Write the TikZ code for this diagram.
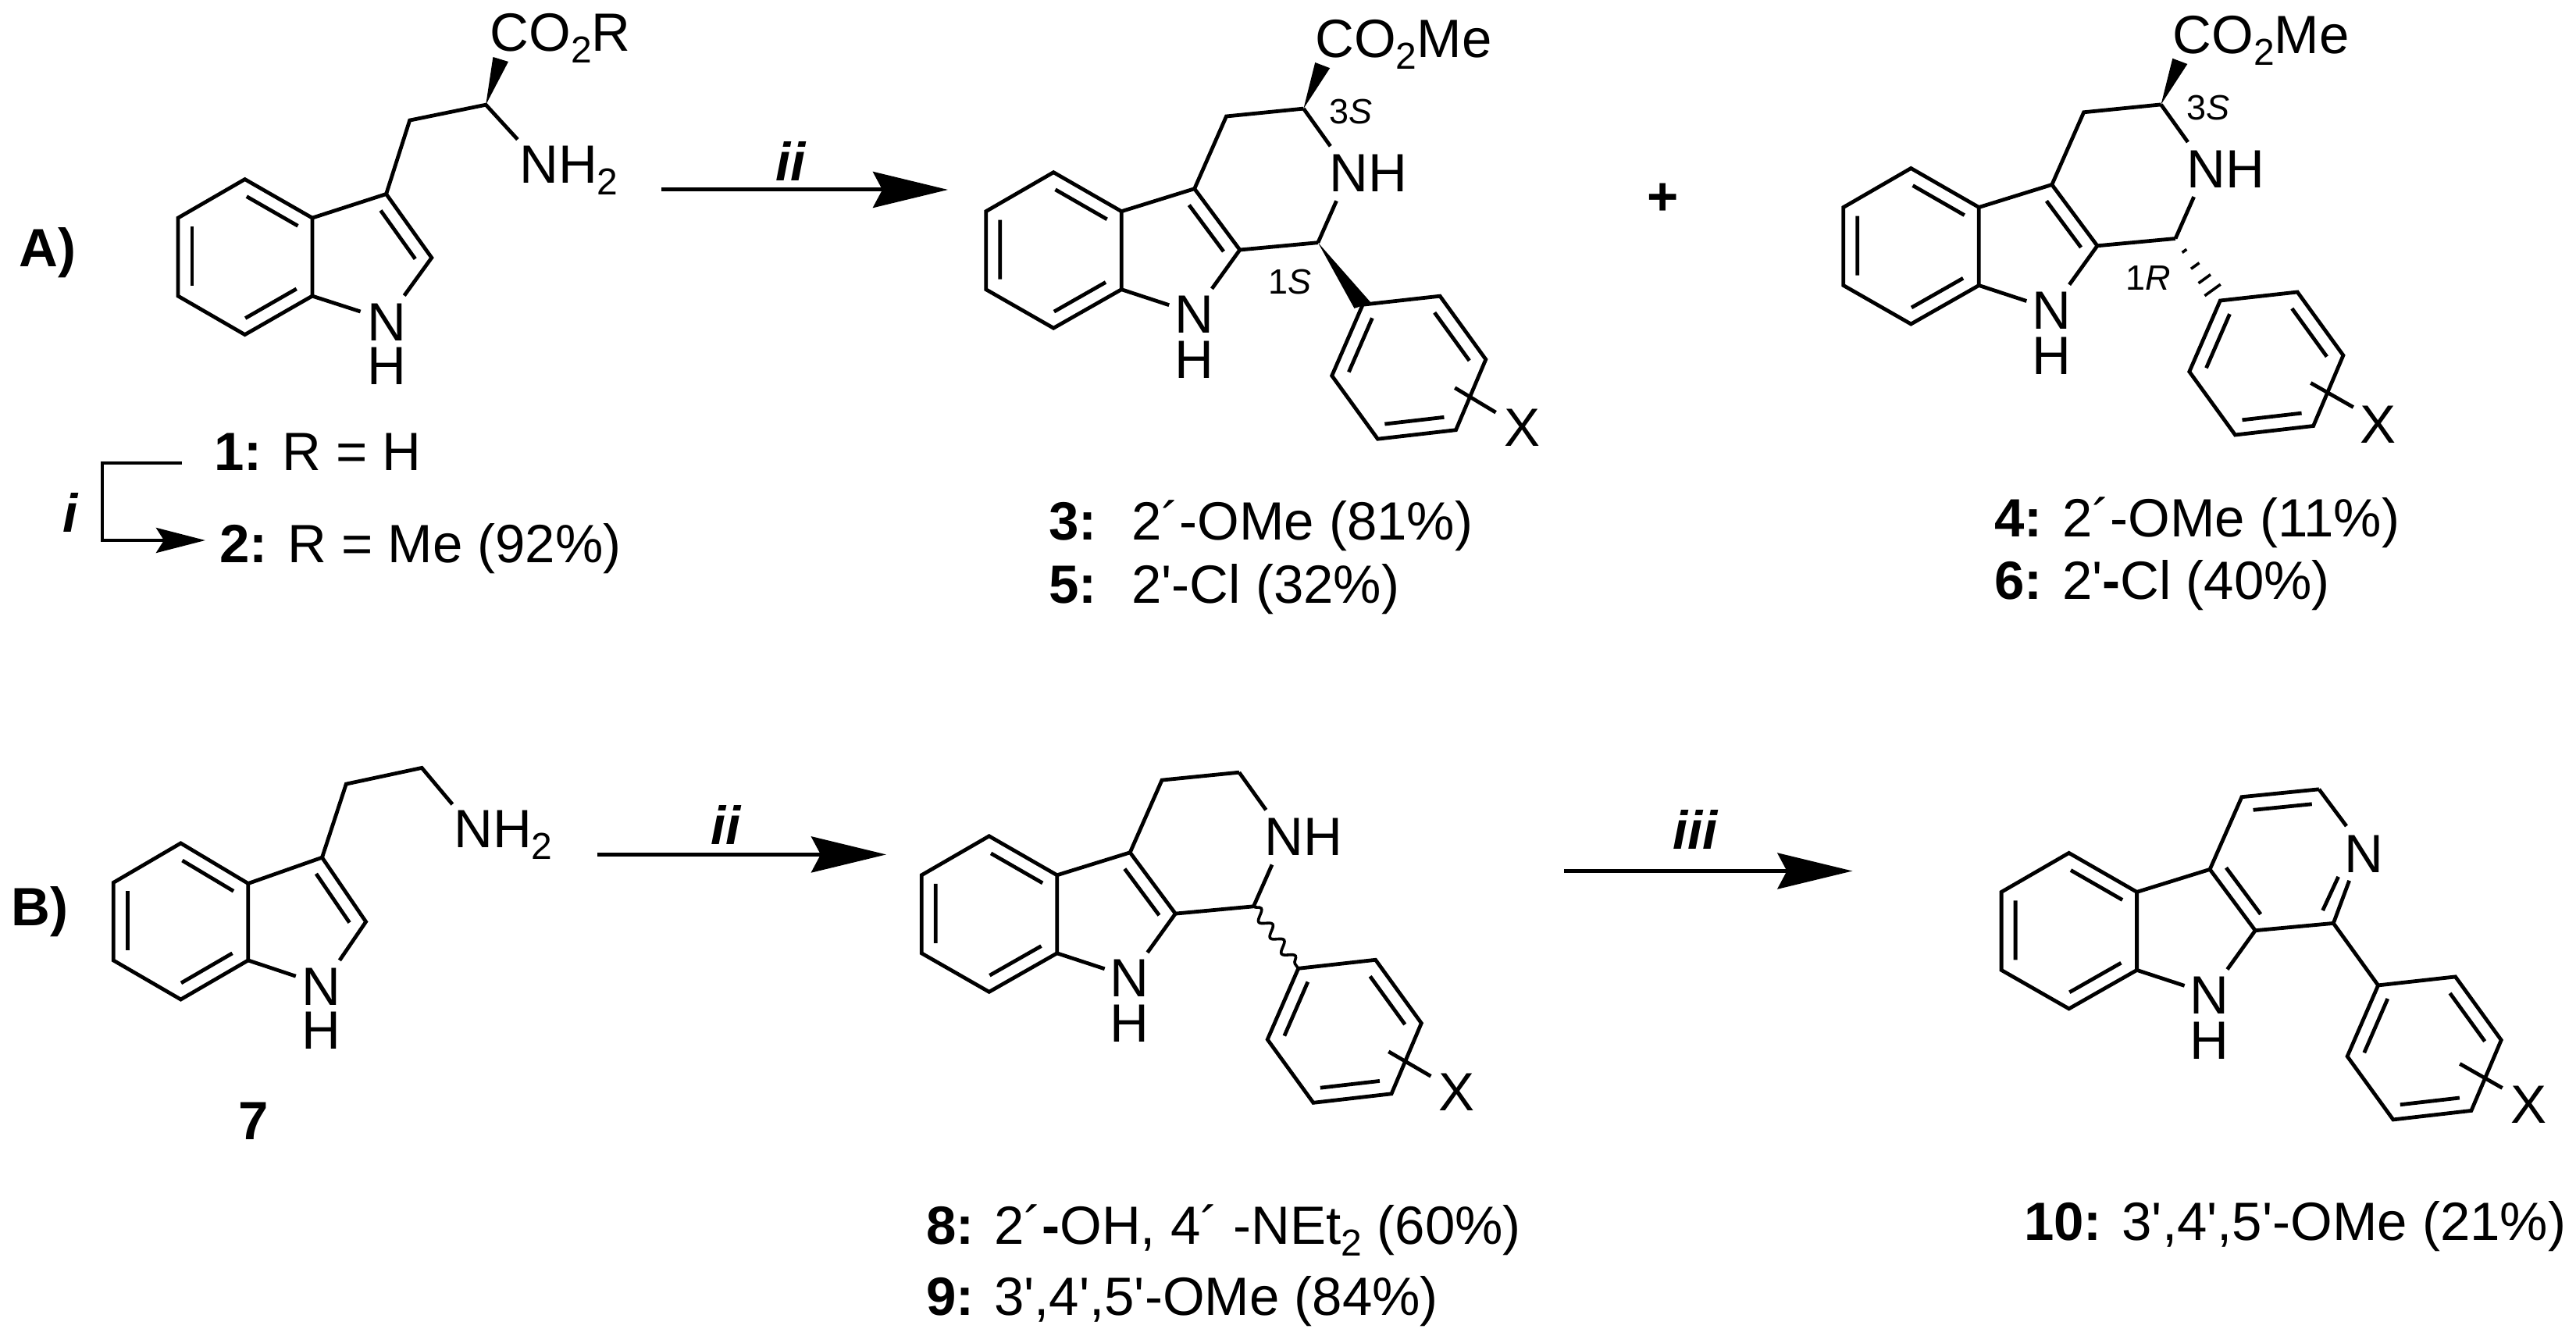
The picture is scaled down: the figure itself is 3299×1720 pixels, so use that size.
\documentclass[tikz,border=0pt]{standalone}
\usepackage{fontspec}
\setmainfont[Ligatures=TeXOff]{Liberation Sans}
\usetikzlibrary{arrows.meta,calc,decorations.pathmorphing}
\tikzset{
  bond/.style={line width=4.8pt, draw=black},
  wedgebond/.style={fill=black, draw=none},
  wavybond/.style={line width=3.6pt, draw=black, decorate, decoration={snake, amplitude=6.5pt, segment length=25pt}},
  rxnarrow/.style={-{Stealth[length=96pt, width=46pt, inset=12pt]}, line width=5pt, draw=black},
  steparrow/.style={-{Stealth[length=63pt, width=32pt, inset=10pt]}, line width=4.8pt, draw=black},
  lbl/.style={anchor=base west, inner sep=0pt, font=\fontsize{69pt}{72pt}\selectfont},
  tinylbl/.style={anchor=base west, inner sep=0pt, font=\fontsize{45pt}{48pt}\selectfont}
}
\newcommand{\ChemSub}[1]{\raisebox{-15pt}{\fontsize{48pt}{48pt}\selectfont #1}}
\newcommand{\InnerBond}[2]{% clockwise pair of atoms
  \draw[bond] ($(#1)!0.13!(#2)!18pt!-90:(#2)$) -- ($(#1)!0.89!(#2)!18pt!90:(#1)$);
}
\newcommand{\DrawCore}[1]{% node suffix
  \coordinate (Ba) at (0,0);
  \coordinate (Bb) at (87,50);
  \coordinate (Bc) at (87,150);
  \coordinate (Bd) at (0,199.5);
  \coordinate (Be) at (-86.5,150);
  \coordinate (Bf) at (-86.5,50);
  \coordinate (Cqa) at (180.5,21);
  \coordinate (Cqb) at (238.6,99.3);
  \coordinate (Cf) at (221.3,-71.7);
  \coordinate (Ct) at (320.2,-81.6);
  \coordinate (Co) at (338.7,90);
  \coordinate (Ph1) at (396,169.5);
  \coordinate (Ph2) at (494.9,158.5);
  \coordinate (Ph3) at (553.6,239.6);
  \coordinate (Ph4) at (515.3,330);
  \coordinate (Ph5) at (415.2,341.5);
  \coordinate (Ph6) at (356.5,260.5);
  \coordinate (NrA) at (202.8,149.1);
  \coordinate (NrB) at (148,170);
  \draw[bond] (Ba) -- (Bb) -- (Bc) -- (Bd) -- (Be) -- (Bf) -- cycle;
  \draw[bond] (Bb) -- (Cqa) -- (Cqb) -- (NrA);
  \draw[bond] (Bc) -- (NrB);
  \draw[bond] (Cqa) -- (Cf) -- (Ct);
  \draw[bond] (Cqb) -- (Co);
  \draw[bond] (Ph1) -- (Ph2) -- (Ph3) -- (Ph4) -- (Ph5) -- (Ph6) -- cycle;
  \InnerBond{Ba}{Bb}
  \InnerBond{Bc}{Bd}
  \InnerBond{Be}{Bf}
  \InnerBond{Ph2}{Ph3}
  \InnerBond{Ph4}{Ph5}
  \InnerBond{Ph6}{Ph1}
  \node[lbl] (N#1) at (155,206) {N};
  \node[lbl] (H#1) at (155,264) {H};
}
\newcommand{\DrawSatRing}[1]{% NH and the lower bonds of the C ring
  \coordinate (NtA) at (354.6,-33.5);
  \coordinate (NtB) at (362.3,36.6);
  \draw[bond] (Ct) -- (NtA);
  \draw[bond] (NtB) -- (Co);
  \InnerBond{Cqa}{Cqb}
  \node[lbl] (NH#1) at (353,25) {NH};
}
\newcommand{\DrawEster}[1]{% wedge and ester of the 3S centre
  \coordinate (Wa) at (335,-140.7);
  \coordinate (Wb) at (354,-133.5);
  \fill[wedgebond] (Ct) -- (Wa) -- (Wb) -- cycle;
  \node[lbl] (Est#1) at (335,-147) {CO\ChemSub{2}Me};
  \node[tinylbl] (Tag#1) at (353,-62) {3\textit{S}};
}
\newcommand{\HashTick}[2]{% place along the bond, half length
  \draw[line width=3.6pt] ($(Co)!#1!(Ph1)!#2!90:(Ph1)$) -- ($(Co)!#1!(Ph1)!#2!-90:(Ph1)$);
}

\begin{document}
\begin{tikzpicture}[x=1pt, y=-1pt]
  \useasboundingbox (0,0) rectangle (3299,1720);

  % A) tryptophan
  \coordinate (TrA) at (313.6,229.6);
  \coordinate (TrB) at (399.9,279.1);
  \coordinate (TrC) at (399.9,379.1);
  \coordinate (TrD) at (313.6,428.6);
  \coordinate (TrE) at (228,379.1);
  \coordinate (TrF) at (228,279.1);
  \coordinate (TrG) at (494.6,248.5);
  \coordinate (TrH) at (552.8,330.1);
  \coordinate (TrI) at (517.7,378.6);
  \coordinate (TrJ) at (461.6,399);
  \coordinate (TrK) at (524.7,154.1);
  \coordinate (TrL) at (622.2,134.2);
  \coordinate (TrM) at (662.9,178.6);
  \coordinate (TrP) at (631.4,73);
  \coordinate (TrQ) at (651,79);
  \draw[bond] (TrA) -- (TrB) -- (TrC) -- (TrD) -- (TrE) -- (TrF) -- cycle;
  \draw[bond] (TrB) -- (TrG) -- (TrH) -- (TrI);
  \draw[bond] (TrC) -- (TrJ);
  \draw[bond] (TrG) -- (TrK) -- (TrL) -- (TrM);
  \fill[wedgebond] (TrL) -- (TrP) -- (TrQ) -- cycle;
  \InnerBond{TrA}{TrB}
  \InnerBond{TrC}{TrD}
  \InnerBond{TrE}{TrF}
  \InnerBond{TrG}{TrH}
  \node[lbl] (labelA) at (24.5,341) {\textbf{A)}};
  \node[lbl] (CoR) at (627.5,65.3) {CO\ChemSub{2}R};
  \node[lbl] (NHtwoA) at (665,234.7) {NH\ChemSub{2}};
  \node[lbl] (NA) at (470,436) {N};
  \node[lbl] (HA) at (470,492.3) {H};
  \node[lbl] (cmpdA) at (274,602) {\textbf{1:} R = H};
  \node[lbl] (cmpdB) at (281,720.4) {\textbf{2:} R = Me (92\%)};

  % step i
  \coordinate (StepA) at (233,593);
  \coordinate (StepB) at (131,593);
  \coordinate (StepC) at (131,692);
  \coordinate (StepD) at (263,692);
  \draw[steparrow] (StepA) -- (StepB) -- (StepC) -- (StepD);
  \node[lbl] (stepi) at (80,681) {\textbf{\textit{i}}};

  % step ii, top row
  \coordinate (ArrA) at (847,243);
  \coordinate (ArrB) at (1214,243);
  \draw[rxnarrow] (ArrA) -- (ArrB);
  \node[lbl] (stepii) at (993,232) {\textbf{\textit{ii}}};

  % compound 3
  \begin{scope}[shift={(1349.2,220.7)}]
    \DrawCore{c}
    \DrawSatRing{c}
    \DrawEster{c}
    \coordinate (Wc) at (385.2,174.2);
    \coordinate (Wd) at (406.8,167.3);
    \fill[wedgebond] (Co) -- (Wc) -- (Wd) -- cycle;
    \node[tinylbl] (Tagc) at (275,156) {1\textit{S}};
    \coordinate (Xa) at (514,276);
    \coordinate (Xb) at (566.4,307.5);
    \draw[bond] (Xa) -- (Xb);
    \node[lbl] (Xc) at (577,351) {X};
  \end{scope}
  \node[lbl, anchor=center] (plus) at (2130,255) {\textbf{+}};
  \node[lbl] (cmpdC) at (1343,691.7) {\textbf{3:} \ 2´-OMe (81\%)};
  \node[lbl] (cmpdE) at (1343,772.5) {\textbf{5:} \ 2'-Cl (32\%)};

  % compound 4
  \begin{scope}[shift={(2447.3,215.5)}]
    \DrawCore{d}
    \DrawSatRing{d}
    \DrawEster{d}
    \HashTick{0.2}{3.5pt}
    \HashTick{0.44}{6.5pt}
    \HashTick{0.65}{9.5pt}
    \HashTick{0.83}{12.5pt}
    \node[tinylbl] (Tagd) at (275,156) {1\textit{R}};
    \coordinate (Xa) at (512,275);
    \coordinate (Xb) at (566.5,306);
    \draw[bond] (Xa) -- (Xb);
    \node[lbl] (Xd) at (575,352) {X};
  \end{scope}
  \node[lbl] (cmpdD) at (2554,687.8) {\textbf{4:} 2´-OMe (11\%)};
  \node[lbl] (cmpdF) at (2554,767.3) {\textbf{6:} 2'\textbf{-}Cl (40\%)};

  % B) tryptamine
  \coordinate (TaA) at (231.5,1079.9);
  \coordinate (TaB) at (317.8,1131.5);
  \coordinate (TaC) at (317.8,1229.9);
  \coordinate (TaD) at (231.5,1280);
  \coordinate (TaE) at (145.2,1229.9);
  \coordinate (TaF) at (145.2,1130.4);
  \coordinate (TaG) at (412.5,1098.2);
  \coordinate (TaH) at (468.6,1180.5);
  \coordinate (TaI) at (434.9,1229.9);
  \coordinate (TaJ) at (378.8,1250.2);
  \coordinate (TaK) at (443.3,1004.1);
  \coordinate (TaL) at (540.2,983.4);
  \coordinate (TaM) at (579.4,1030.1);
  \draw[bond] (TaA) -- (TaB) -- (TaC) -- (TaD) -- (TaE) -- (TaF) -- cycle;
  \draw[bond] (TaB) -- (TaG) -- (TaH) -- (TaI);
  \draw[bond] (TaC) -- (TaJ);
  \draw[bond] (TaG) -- (TaK) -- (TaL) -- (TaM);
  \InnerBond{TaA}{TaB}
  \InnerBond{TaC}{TaD}
  \InnerBond{TaE}{TaF}
  \InnerBond{TaG}{TaH}
  \node[lbl] (labelB) at (14,1185) {\textbf{B)}};
  \node[lbl] (NHtwoB) at (581,1085.6) {NH\ChemSub{2}};
  \node[lbl] (NB) at (386,1287.3) {N};
  \node[lbl] (HB) at (386,1343.9) {H};
  \node[lbl] (cmpdG) at (305,1459) {\textbf{7}};

  % step ii, bottom row
  \coordinate (ArrC) at (764.6,1094.4);
  \coordinate (ArrD) at (1135,1094.4);
  \draw[rxnarrow] (ArrC) -- (ArrD);
  \node[lbl] (stepiiB) at (910.5,1081.8) {\textbf{\textit{ii}}};

  % compound 8
  \begin{scope}[shift={(1266.7,1070.8)}]
    \DrawCore{e}
    \DrawSatRing{e}
    \draw[wavybond] (Co) -- (Ph1);
    \coordinate (Xa) at (511.6,276);
    \coordinate (Xb) at (565.7,307.5);
    \draw[bond] (Xa) -- (Xb);
    \node[lbl] (Xe) at (576,352) {X};
  \end{scope}
  \node[lbl] (cmpdH) at (1186,1593.4) {\textbf{8:} 2´\textbf{-}OH, 4´ -NEt\ChemSub{2} (60\%)};
  \node[lbl] (cmpdI) at (1186,1684.3) {\textbf{9:} 3',4',5'-OMe (84\%)};

  % step iii
  \coordinate (ArrE) at (2003,1115.5);
  \coordinate (ArrF) at (2372.4,1115.5);
  \draw[rxnarrow] (ArrE) -- (ArrF);
  \node[lbl] (stepiii) at (2142,1087.5) {\textbf{\textit{iii}}};

  % compound 10
  \begin{scope}[shift={(2649.6,1092.4)}]
    \DrawCore{f}
    \coordinate (PyA) at (355.4,-34.4);
    \coordinate (PyB) at (359,35.4);
    \coordinate (PyC) at (345,30.5);
    \coordinate (PyD) at (325,73.6);
    \draw[bond] (Ct) -- (PyA);
    \draw[bond] (PyB) -- (Co);
    \draw[bond] (PyC) -- (PyD);
    \draw[bond] (Co) -- (Ph1);
    \InnerBond{Cf}{Ct}
    \InnerBond{Cqb}{Cqa}
    \node[lbl] (Npy) at (353,25) {N};
    \coordinate (Xa) at (500.6,270);
    \coordinate (Xb) at (555,301);
    \draw[bond] (Xa) -- (Xb);
    \node[lbl] (Xf) at (566,346.3) {X};
  \end{scope}
  \node[lbl] (cmpdK) at (2592,1588.5) {\textbf{10:} 3',4',5'-OMe (21\%)};
\end{tikzpicture}
\end{document}
